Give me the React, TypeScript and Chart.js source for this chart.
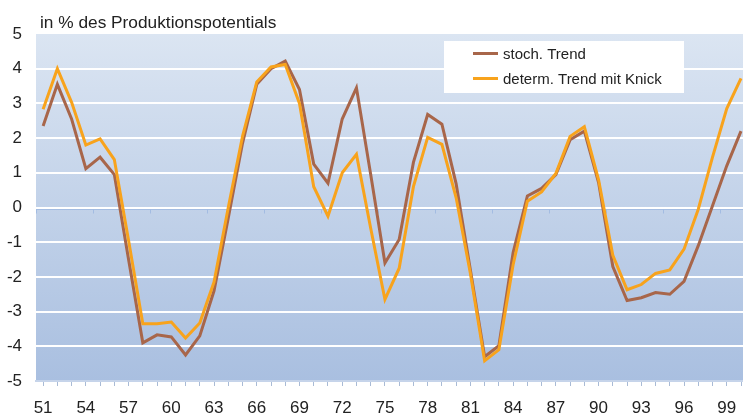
import React, { useEffect, useRef } from 'react';
import { Chart, registerables } from 'chart.js';

Chart.register(...registerables);

const years = [
  '51', '52', '53', '54', '55', '56', '57', '58', '59', '60',
  '61', '62', '63', '64', '65', '66', '67', '68', '69', '70',
  '71', '72', '73', '74', '75', '76', '77', '78', '79', '80',
  '81', '82', '83', '84', '85', '86', '87', '88', '89', '90',
  '91', '92', '93', '94', '95', '96', '97', '98', '99', '00',
];

const stochTrend = [
  2.35, 3.55, 2.55, 1.12, 1.45, 0.95, -1.5, -3.9, -3.67, -3.73,
  -4.25, -3.7, -2.4, -0.3, 1.85, 3.55, 4.0, 4.22, 3.4, 1.25,
  0.7, 2.55, 3.45, 0.95, -1.6, -0.92, 1.3, 2.68, 2.4, 0.68,
  -1.8, -4.3, -3.98, -1.3, 0.33, 0.55, 0.95, 1.95, 2.2, 0.72,
  -1.7, -2.68, -2.6, -2.45, -2.5, -2.13, -1.1, 0.05, 1.2, 2.2,
];

const determTrend = [
  2.83, 4.0, 3.03, 1.8, 1.98, 1.38, -0.95, -3.35, -3.35, -3.3,
  -3.76, -3.33, -2.15, 0.0, 2.05, 3.62, 4.05, 4.12, 3.0, 0.6,
  -0.25, 1.0, 1.53, -0.6, -2.65, -1.75, 0.6, 2.02, 1.82, 0.28,
  -1.9, -4.42, -4.1, -1.65, 0.18, 0.45, 0.98, 2.05, 2.33, 0.8,
  -1.38, -2.37, -2.22, -1.9, -1.8, -1.2, -0.05, 1.45, 2.85, 3.72,
];

const seriesNames = ['stoch. Trend', 'determ. Trend mit Knick'];
const seriesColors = ['#a8664a', '#f8a31c'];
const titleText = 'in % des Produktionspotentials';
const yMin = -5;
const yMax = 5;

const FONT = '"Liberation Sans", Arial, Helvetica, sans-serif';

const bgPlugin = {
  id: 'bgGradient',
  beforeDraw(chart: any) {
    const { ctx, chartArea } = chart;
    const { left, right, top, bottom } = chartArea;
    const g = ctx.createLinearGradient(0, top, 0, bottom);
    g.addColorStop(0, '#dbe5f2');
    g.addColorStop(1, '#a9bfe0');
    ctx.save();
    ctx.fillStyle = g;
    ctx.fillRect(left, top, right - left, bottom - top);
    ctx.restore();
  },
};

const zeroLinePlugin = {
  id: 'zeroLine',
  beforeDatasetsDraw(chart: any) {
    const { ctx, chartArea, scales } = chart;
    const y0 = Math.round(scales.y.getPixelForValue(0)) + 1.5;
    const step = (chartArea.right - chartArea.left) / years.length;
    ctx.save();
    ctx.strokeStyle = 'rgba(160,185,225,0.9)';
    ctx.lineWidth = 1;
    ctx.beginPath();
    ctx.moveTo(chartArea.left, y0);
    ctx.lineTo(chartArea.right, y0);
    for (let i = 0; i <= years.length; i += 4) {
      const x = Math.round(chartArea.left + i * step) + 0.5;
      ctx.moveTo(x, y0);
      ctx.lineTo(x, y0 + 4);
    }
    ctx.stroke();
    ctx.restore();
  },
};

const textPlugin = {
  id: 'titleLegend',
  afterDraw(chart: any) {
    const { ctx } = chart;
    ctx.save();
    // title
    ctx.fillStyle = '#222';
    ctx.font = `17.3px ${FONT}`;
    ctx.textBaseline = 'alphabetic';
    ctx.textAlign = 'left';
    ctx.fillText(titleText, 40, 28);
    // legend box
    ctx.fillStyle = '#ffffff';
    ctx.fillRect(444, 41, 240, 52);
    ctx.font = `15px ${FONT}`;
    ctx.textBaseline = 'middle';
    seriesNames.forEach((name, i) => {
      const y = 53.5 + i * 25;
      ctx.strokeStyle = seriesColors[i];
      ctx.lineWidth = 3;
      ctx.beginPath();
      ctx.moveTo(473, y);
      ctx.lineTo(498, y);
      ctx.stroke();
      ctx.fillStyle = '#222';
      ctx.fillText(name, 503, y + 1);
    });
    ctx.restore();
  },
};

export default function App() {
  const ref = useRef<HTMLCanvasElement | null>(null);

  useEffect(() => {
    if (!ref.current) return;
    const chart = new Chart(ref.current, {
      type: 'line',
      data: {
        labels: years,
        datasets: [
          {
            label: seriesNames[0],
            data: stochTrend,
            borderColor: seriesColors[0],
            backgroundColor: seriesColors[0],
            borderWidth: 3,
            pointRadius: 0,
            tension: 0,
            order: 2,
          },
          {
            label: seriesNames[1],
            data: determTrend,
            borderColor: seriesColors[1],
            backgroundColor: seriesColors[1],
            borderWidth: 3,
            pointRadius: 0,
            tension: 0,
            order: 1,
          },
        ],
      },
      options: {
        animation: false,
        responsive: false,
        maintainAspectRatio: false,
        devicePixelRatio: 1,
        layout: { padding: { top: 34, left: 0, right: 0, bottom: 0 } },
        plugins: {
          legend: { display: false },
          tooltip: { enabled: false },
          title: { display: false },
        },
        scales: {
          x: {
            type: 'category',
            offset: true,
            grid: {
              display: true,
              drawOnChartArea: false,
              drawTicks: true,
              tickLength: 5,
              color: '#a9bbd6',
              lineWidth: 1,
            },
            border: { display: true, color: '#c6d4ea', width: 2 },
            ticks: {
              autoSkip: false,
              maxRotation: 0,
              minRotation: 0,
              padding: 12,
              color: '#222',
              font: { family: FONT, size: 17 },
              callback: (_v: any, i: number) => (i % 3 === 0 ? years[i] : ''),
            },
            afterFit: (s: any) => {
              s.height = 32;
            },
          },
          y: {
            min: yMin,
            max: yMax,
            ticks: {
              stepSize: 1,
              padding: 14,
              color: '#222',
              font: { family: FONT, size: 17 },
            },
            grid: {
              color: (c: any) =>
                c.tick && (c.tick.value === yMax || c.tick.value === yMin)
                  ? 'rgba(0,0,0,0)'
                  : '#ffffff',
              lineWidth: 2,
              drawTicks: false,
            },
            border: { display: false },
            afterFit: (s: any) => {
              s.width = 36;
            },
          },
        },
      },
      plugins: [bgPlugin, zeroLinePlugin, textPlugin],
    } as any);
    return () => chart.destroy();
  }, []);

  return (
    <div
      style={{
        position: 'absolute',
        left: 0,
        top: 0,
        width: 743,
        height: 413,
        overflow: 'hidden',
        background: '#ffffff',
      }}
    >
      <canvas ref={ref} width={753} height={413} style={{ width: 753, height: 413, display: 'block' }} />
    </div>
  );
}
